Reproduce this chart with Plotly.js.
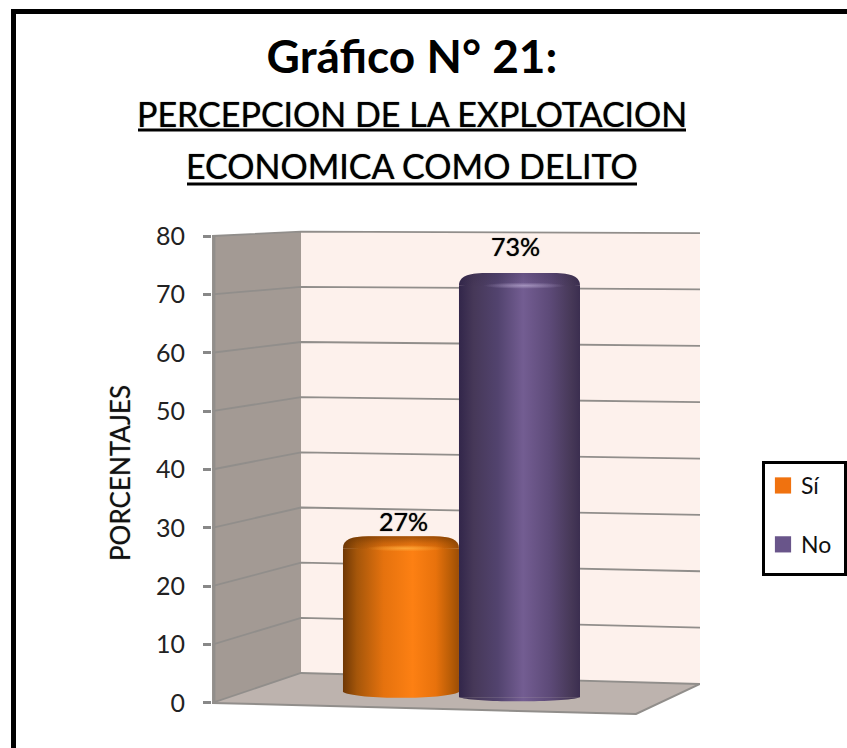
<!DOCTYPE html>
<html>
<head>
<meta charset="utf-8">
<script src="https://cdn.plot.ly/plotly-3.0.1.min.js"></script>
<style>html,body{margin:0;padding:0;background:#fff}#chart{width:847px;height:748px}</style>
</head>
<body>
<div id="chart"></div>
<script>
// ---- chart values ----
const seriesNames = ['Sí', 'No'];
const percentLabels = ['27%', '73%'];
const barTops = [26.5, 71.5];      // where each cylinder's straight side meets its rounded top
const barBases = [1.9, 1.0];       // where the cylinder's side ends at the floor
const tickValues = [0, 10, 20, 30, 40, 50, 60, 70, 80];
const titleLine1 = 'Gráfico N° 21:';
const titleLine2 = 'PERCEPCION DE LA EXPLOTACION';
const titleLine3 = 'ECONOMICA COMO DELITO';
const yAxisTitle = 'PORCENTAJES';

// ---- styling ----
const FONT = 'Lato, sans-serif';
const SOFT = '0 0 1px rgba(0,0,0,0.8)';
const swatchColors = ['#f0720f', '#69558a'];
const barX0 = [-0.2316, 0.0061];
const barW = [0.2377, 0.2480];
const capRise = [2.05, 2.15];
const bottomDrop = [1.0, 0.7];
const gridColor = '#918e8b';
const wallX = -0.3176, leftX = -0.5, rightX = 0.5, frontX = 0.369;
const backL = v => 5.14 + 0.945 * v;
const backR = v => 3.25 + 0.9657 * v;

const shapes = [];
const gradientFills = {};
function addShape(s, fill) {
  if (fill) gradientFills[shapes.length] = fill;
  shapes.push(s);
}
const none = {width: 0};
const dataRef = {xref: 'x', yref: 'y'};
// walls and floor
addShape({...dataRef, type: 'path', layer: 'below', fillcolor: '#fdf1ec', line: none,
  path: `M${wallX},${backL(0)} L${wallX},${backL(80)} L${rightX},${backR(80)} L${rightX},${backR(0)} Z`});
addShape({...dataRef, type: 'path', layer: 'below', fillcolor: '#a39a94', line: none,
  path: `M${leftX},0 L${leftX},80 L${wallX},${backL(80)} L${wallX},${backL(0)} Z`});
addShape({...dataRef, type: 'path', layer: 'below', fillcolor: '#bdb3ae', line: none,
  path: `M${leftX},0 L${wallX},${backL(0)} L${rightX},${backR(0)} L${frontX},-1.88 Z`});
addShape({...dataRef, type: 'path', layer: 'below', line: {color: gridColor, width: 2},
  path: `M${leftX},0 L${frontX},-1.88 L${rightX},${backR(0)}`});
// gridlines running along the two walls
tickValues.forEach(v => {
  addShape({...dataRef, type: 'path', layer: 'below', line: {color: gridColor, width: 1.8},
    path: `M${leftX},${v} L${wallX},${backL(v)} L${rightX},${backR(v)}`});
});
// axis post
addShape({...dataRef, type: 'line', layer: 'below', x0: -0.4962, x1: -0.4962, y0: 0, y1: 80,
  line: {color: gridColor, width: 3}});

// cylinder floors and tops
const gradIds = ['gradOrange', 'gradPurple'];
seriesNames.forEach((n, i) => {
  const a = barX0[i], w = barW[i], b = barBases[i];
  addShape({...dataRef, type: 'path', layer: 'below', fillcolor: swatchColors[i], line: none,
    path: `M${a},${b} C${a + w * 0.12},${b - bottomDrop[i] * 1.35} ${a + w * 0.88},${b - bottomDrop[i] * 1.35} ${a + w},${b} Z`}, gradIds[i]);
});
seriesNames.forEach((n, i) => {
  const a = barX0[i], w = barW[i], t = barTops[i], h = capRise[i];
  const top = t + h, dip = t - 0.55;
  const cap = `M${a},${t} C${a},${t + h * 0.7} ${a + w * 0.07},${top} ${a + w * 0.22},${top} L${a + w * 0.78},${top} C${a + w * 0.93},${top} ${a + w},${t + h * 0.7} ${a + w},${t} Q${a + w / 2},${dip} ${a},${t} Z`;
  addShape({...dataRef, type: 'path', layer: 'above', fillcolor: swatchColors[i], line: none, path: cap}, gradIds[i]);
  addShape({...dataRef, type: 'path', layer: 'above', fillcolor: '#000', line: none, path: cap}, i === 0 ? 'gradShadeO' : 'gradShadeP');
  addShape({...dataRef, type: 'circle', layer: 'above', fillcolor: '#fff', line: none,
    x0: a + w * 0.2, x1: a + w * 0.88, y0: t - 0.55, y1: t + 0.55}, i === 0 ? 'gradGlowO' : 'gradGlowP');
});
// title underlines and outer frame (page-level furniture)
const W = 488, H = 486, ML = 212, MT = 230;
const px = p => (p - ML) / W, py = p => (MT + H - p) / H;
const paperRef = {xref: 'paper', yref: 'paper', layer: 'above'};
addShape({...paperRef, type: 'line', x0: px(138), x1: px(686), y0: py(130), y1: py(130), line: {color: '#000', width: 3}});
addShape({...paperRef, type: 'line', x0: px(187), x1: px(637), y0: py(184), y1: py(184), line: {color: '#000', width: 3}});
addShape({...paperRef, type: 'path', line: {color: '#000', width: 5},
  path: `M${px(13.5)},${py(748)} L${px(13.5)},${py(11.5)} L${px(847)},${py(11.5)}`});

const traces = seriesNames.map((name, i) => ({
  type: 'bar', name, x: [0], y: [barTops[i] - barBases[i]], base: [barBases[i]],
  offset: barX0[i], width: barW[i], legendgroup: name,
  marker: {color: swatchColors[i], line: {width: 0}}, hoverinfo: 'name+y'
}));

const annotations = [
  {text: titleLine2, xref: 'paper', yref: 'paper', x: px(412), y: py(113), xanchor: 'center', yanchor: 'middle', showarrow: false,
    font: {family: FONT, size: 34, color: '#000', shadow: SOFT}},
  {text: titleLine3, xref: 'paper', yref: 'paper', x: px(412), y: py(166), xanchor: 'center', yanchor: 'middle', showarrow: false,
    font: {family: FONT, size: 34, color: '#000', shadow: SOFT}},
  ...percentLabels.map((t, i) => ({
    text: t, xref: 'x', yref: 'y', x: [(403 - 456) / 488, (515 - 456) / 488][i], y: barTops[i], xanchor: 'center', yanchor: 'middle',
    yshift: [27, 39.6][i], showarrow: false, font: {family: FONT, size: 25, color: '#000', shadow: SOFT}
  }))
];

const layout = {
  width: 847, height: 748,
  margin: {l: ML, r: 147, t: MT, b: 32, pad: 0, autoexpand: false},
  paper_bgcolor: '#fff', plot_bgcolor: '#fff',
  barmode: 'overlay',
  showlegend: true,
  title: {text: titleLine1, x: 412 / 847, xanchor: 'center', y: 1 - 57 / 748, yanchor: 'middle',
    font: {family: FONT, size: 46, color: '#000', weight: 700}},
  xaxis: {type: 'linear', range: [-0.5, 0.5], visible: false, fixedrange: true},
  yaxis: {range: [-2.23, 81.03], tickmode: 'array', tickvals: tickValues, ticks: 'outside', ticklen: 8,
    tickwidth: 2.5, tickcolor: '#888', showgrid: false, zeroline: false, showline: false,
    ticklabelstandoff: 13, fixedrange: true, automargin: false,
    tickfont: {family: FONT, size: 25, color: '#222'},
    title: {text: yAxisTitle, standoff: 17, font: {family: FONT, size: 26, color: '#111', shadow: '0 0 1px rgba(0,0,0,0.5)'}}},
  legend: {x: px(762), xanchor: 'left', y: py(461), yanchor: 'top', bgcolor: '#fff', bordercolor: '#000', borderwidth: 3,
    font: {family: FONT, size: 23, color: '#111'}, tracegroupgap: 26, traceorder: 'grouped', itemclick: false, itemdoubleclick: false},
  shapes, annotations
};

Plotly.newPlot('chart', traces, layout, {displayModeBar: false}).then(gd => {
  const svg = gd.querySelector('svg.main-svg');
  const ns = 'http://www.w3.org/2000/svg';
  const defs = document.createElementNS(ns, 'defs');
  const lin = (id, stops, vertical) => {
    const g = document.createElementNS(ns, 'linearGradient');
    g.setAttribute('id', id);
    g.setAttribute('x1', 0); g.setAttribute('y1', 0);
    g.setAttribute('x2', vertical ? 0 : 1); g.setAttribute('y2', vertical ? 1 : 0);
    stops.forEach(([o, c, op]) => {
      const s = document.createElementNS(ns, 'stop');
      s.setAttribute('offset', o); s.setAttribute('stop-color', c);
      if (op !== undefined) s.setAttribute('stop-opacity', op);
      g.appendChild(s);
    });
    defs.appendChild(g);
  };
  const rad = (id, color, op) => {
    const g = document.createElementNS(ns, 'radialGradient');
    g.setAttribute('id', id);
    [[0, op], [1, 0]].forEach(([o, a]) => {
      const s = document.createElementNS(ns, 'stop');
      s.setAttribute('offset', o); s.setAttribute('stop-color', color); s.setAttribute('stop-opacity', a);
      g.appendChild(s);
    });
    defs.appendChild(g);
  };
  lin('gradOrange', [[0, '#6f3806'], [0.12, '#a5560a'], [0.35, '#e5720e'], [0.6, '#fd8013'], [0.8, '#e8720c'], [0.93, '#b85c06'], [1, '#9c4e06']]);
  lin('gradPurple', [[0, '#32264a'], [0.12, '#463858'], [0.32, '#52436e'], [0.53, '#735d92'], [0.75, '#5d4a78'], [0.93, '#463857'], [1, '#3b2e50']]);
  lin('gradShadeO', [[0, '#5a2c00', 0.55], [0.5, '#5a2c00', 0.22], [1, '#5a2c00', 0]], true);
  lin('gradShadeP', [[0, '#2a1f3d', 0.18], [1, '#2a1f3d', 0]], true);
  rad('gradGlowO', '#ffb040', 0.8);
  rad('gradGlowP', '#b0a0c8', 0.8);
  svg.insertBefore(defs, svg.firstChild);

  Object.entries(gradientFills).forEach(([idx, id]) => {
    gd.querySelectorAll(`.shapelayer path[data-index="${idx}"]`).forEach(p => {
      p.style.fill = `url(#${id})`;
      p.style.fillOpacity = 1;
    });
  });
  gd.querySelectorAll('.barlayer .trace').forEach((tr, i) => {
    tr.querySelectorAll('path').forEach(p => { p.style.fill = `url(#${gradIds[i]})`; });
  });
  gd.querySelectorAll('.legend .legendpoints path').forEach(p => {
    p.setAttribute('transform', 'translate(18,0) scale(1.35)');
  });
  gd.querySelectorAll('.legend text.legendtext').forEach(t => {
    const x = parseFloat(t.getAttribute('x')) || 40;
    t.setAttribute('x', x - 4);
  });
  const bg = gd.querySelector('.legend rect.bg');
  if (bg) { bg.setAttribute('height', 112); bg.setAttribute('width', 82); }
});
</script>
</body>
</html>
